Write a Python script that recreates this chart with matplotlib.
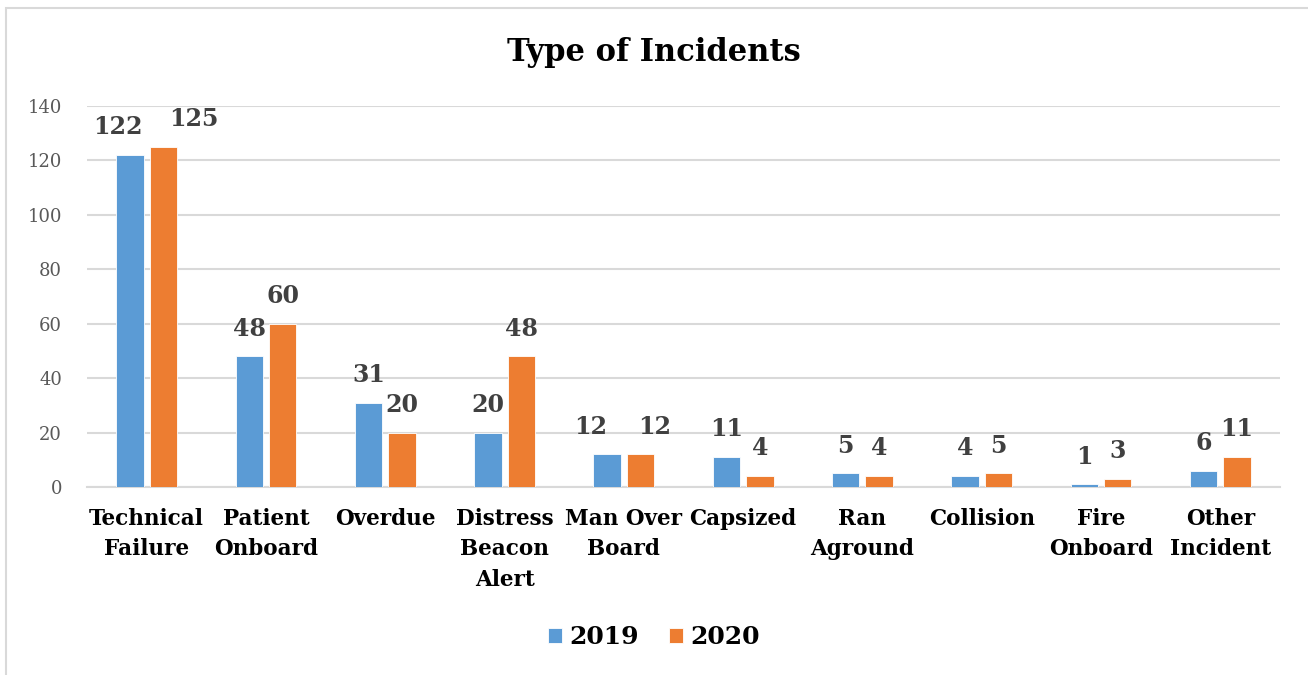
import matplotlib
matplotlib.use('Agg')
import matplotlib.pyplot as plt
from matplotlib.patches import Rectangle
import numpy as np

# incident counts per category
categories = ["Technical\nFailure", "Patient\nOnboard", "Overdue", "Distress\nBeacon\nAlert",
              "Man Over\nBoard", "Capsized", "Ran\nAground", "Collision", "Fire\nOnboard",
              "Other\nIncident"]
counts_2019 = [122, 48, 31, 20, 12, 11, 5, 4, 1, 6]
counts_2020 = [125, 60, 20, 48, 12, 4, 4, 5, 3, 11]
years = ["2019", "2020"]

BLUE = '#5B9BD5'
ORANGE = '#ED7D31'
SERIF = 'DejaVu Serif'

fig = plt.figure(figsize=(13.08, 6.75), dpi=100, facecolor='white')
ax = fig.add_axes([87 / 1308, 1 - 487 / 675, (1280 - 87) / 1308, (487 - 106) / 675])

# outer chart frame
fig.patches.append(Rectangle((6 / 1308, -0.1), 1.2, 1.1 - 8 / 675, transform=fig.transFigure,
                             fill=False, edgecolor='#d9d9d9', lw=1.5, zorder=0))

x = np.arange(len(categories))
w = 0.23
off = 0.14
b1 = ax.bar(x - off, counts_2019, w, color=BLUE, edgecolor='white', lw=0.6, zorder=3, label=years[0])
b2 = ax.bar(x + off, counts_2020, w, color=ORANGE, edgecolor='white', lw=0.6, zorder=3, label=years[1])

ax.set_xlim(-0.5, len(categories) - 0.5)
ax.set_ylim(0, 140)
ax.set_yticks(range(0, 141, 20))
ax.grid(axis='y', color='#d9d9d9', lw=1.5, zorder=0)
ax.set_axisbelow(True)
for s in ['top', 'right', 'left']:
    ax.spines[s].set_visible(False)
ax.spines['bottom'].set_color('#d9d9d9')
ax.spines['bottom'].set_linewidth(1.5)
ax.tick_params(axis='both', length=0)
ax.tick_params(axis='y', pad=18, labelsize=13, labelcolor='#595959')
for t in ax.get_yticklabels():
    t.set_fontfamily(SERIF)
ax.set_xticks(x)
ax.set_xticklabels(categories, fontsize=15.5, fontweight='bold', family=SERIF,
                   linespacing=1.5, va='top')
ax.tick_params(axis='x', pad=15)

# value labels; crowded pairs get pushed sideways (dx in points)
nudge = {(0, 0): -9, (0, 1): 22, (4, 0): -12, (4, 1): 10}
for si, bars in enumerate([b1, b2]):
    for ci, b in enumerate(bars):
        dx = nudge.get((ci, si), 0)
        ax.annotate(f'{int(b.get_height())}', (b.get_x() + b.get_width() / 2, b.get_height()),
                    textcoords='offset points', xytext=(dx, 20), ha='center', va='center',
                    fontsize=17, fontweight='bold', color='#404040', family=SERIF)

fig.text(0.5, 1 - 52 / 675, 'Type of Incidents', ha='center', va='center',
         fontsize=22, fontweight='bold', family=SERIF)

leg = fig.legend(handles=[b1, b2], labels=years, loc='center', bbox_to_anchor=(0.5, 1 - 637 / 675),
                 ncol=2, frameon=False, prop={'family': SERIF, 'weight': 'bold', 'size': 18},
                 handlelength=0.55, handleheight=0.55, handletextpad=0.3, columnspacing=1.2)

fig.savefig('out.png', dpi=100, facecolor='white')
